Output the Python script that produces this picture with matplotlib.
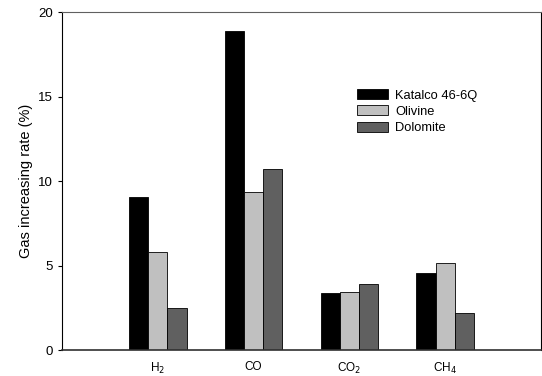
import matplotlib
matplotlib.use("Agg")
import matplotlib.pyplot as plt
import numpy as np

categories = ["H$_2$", "CO", "CO$_2$", "CH$_4$"]
series_names = ["Katalco 46-6Q", "Olivine", "Dolomite"]
katalco = [9.05, 18.9, 3.4, 4.55]
olivine = [5.8, 9.35, 3.45, 5.15]
dolomite = [2.5, 10.7, 3.9, 2.2]
colors = ["#000000", "#c0c0c0", "#606060"]

plt.rcParams['font.family'] = ['Liberation Sans', 'DejaVu Sans']
fig = plt.figure(figsize=(5.42, 3.76), dpi=100)
ax = fig.add_axes([0.1144, 0.069, 0.8836, 0.899])

x = np.arange(1, len(categories) + 1)
w = 0.2
for i, (vals, name, c) in enumerate(zip([katalco, olivine, dolomite], series_names, colors)):
    ax.bar(x + (i - 1) * w, vals, width=w, color=c, edgecolor="#000000", linewidth=0.6, label=name)

ax.set_xlim(0, 5)
ax.set_ylim(0, 20)
ax.set_yticks([0, 5, 10, 15, 20])
ax.set_xticks(x)
ax.set_xticklabels(categories, fontsize=8.5)
ax.tick_params(axis='x', length=0, pad=8)
ax.tick_params(axis='y', labelsize=9.5, length=3, width=0.8, direction='out')
for s in ax.spines.values():
    s.set_linewidth(0.8)
ax.spines['top'].set_color('#606060')
ax.spines['bottom'].set_linewidth(1.2)
ax.spines['bottom'].set_color('#303030')
ax.set_ylabel("Gas increasing rate (%)", fontsize=10.5)

leg = ax.legend(loc='upper left', bbox_to_anchor=(0.615, 0.772), frameon=False, fontsize=9.3,
                handlelength=2.4, handleheight=0.8, handletextpad=0.6, labelspacing=0.3,
                borderaxespad=0, borderpad=0)
fig.savefig("out.png", dpi=100)
